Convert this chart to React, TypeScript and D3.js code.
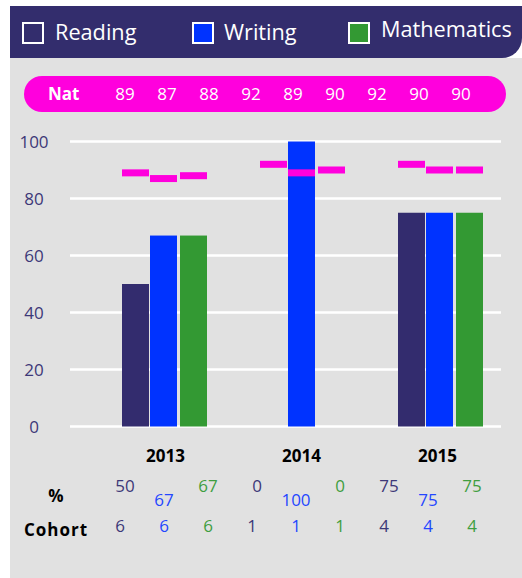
import React from "react";
import * as d3 from "d3";

const years = ["2013", "2014", "2015"];
const series = ["Reading", "Writing", "Mathematics"];
const reading = [50, 0, 75];
const writing = [67, 100, 75];
const maths = [67, 0, 75];
const natReading = [89, 92, 92];
const natWriting = [87, 89, 90];
const natMaths = [88, 90, 90];
const cohortReading = [6, 1, 4];
const cohortWriting = [6, 1, 4];
const cohortMaths = [6, 1, 4];
const yTicks = [0, 20, 40, 60, 80, 100];

const barColors = ["#332c6e", "#0033ff", "#339933"];
const textColors = ["#3d3878", "#2447ff", "#3f9e3f"];
const font = "'Open Sans', sans-serif";

export default function App() {
  const W = 522, H = 578;
  const y = d3.scaleLinear().domain([0, 100]).range([426.5, 141.5]);
  const xYear = d3.scaleBand().domain(years).range([150, 564]).padding(0);
  const offsets = [-28, 0, 30];
  const bw = 27;
  const values = [reading, writing, maths];
  const nats = [natReading, natWriting, natMaths];
  const cohorts = [cohortReading, cohortWriting, cohortMaths];
  const yearLabelX = d3.scalePoint().domain(years).range([165.5, 437.5]);
  const cols = d3.range(9);
  const colX = d3.scalePoint<number>().domain(cols).range([120, 472]);
  const natX = d3.scalePoint<number>().domain(cols).range([125, 461]);
  const pctY = [492, 506, 492];
  const pctDx = [5, 0, 0];

  const natFlat: number[] = [];
  years.forEach((_, yi) => series.forEach((_, si) => natFlat.push(nats[si][yi])));

  const headerPath = `M10,6 H522 V38 A20,20 0 0 1 502,58 H10 Z`;

  return (
    <svg width={W} height={H} style={{ position: "absolute", left: 0, top: 0 }} fontFamily={font}>
      <rect x={10} y={58} width={512} height={520} fill="#e1e1e1" />
      <path d={headerPath} fill="#332d6d" />
      {/* legend */}
      {[
        { x: 22, tx: 55, ty: 40 },
        { x: 192, tx: 224, ty: 40 },
        { x: 348, tx: 381, ty: 37 },
      ].map((l, i) => (
        <g key={i}>
          <rect x={l.x + 1} y={23} width={20} height={20} fill={i === 0 ? "#332d6d" : barColors[i]} stroke="#fff" strokeWidth={2} />
          <text x={l.tx} y={l.ty} fill="#fff" fontSize={21.7}>{series[i]}</text>
        </g>
      ))}
      {/* nat pill */}
      <rect x={24} y={76} width={482} height={36} rx={18} fill="#ff00dd" />
      <text x={48} y={100} fill="#fff" fontSize={17} fontWeight="bold">Nat</text>
      {natFlat.map((v, i) => (
        <text key={i} x={natX(i)} y={100} fill="#fff" fontSize={17} textAnchor="middle">{v}</text>
      ))}
      {/* grid */}
      {yTicks.map((t) => (
        <g key={t}>
          <line x1={70} x2={501} y1={y(t)} y2={y(t)} stroke="#fff" strokeWidth={2.5} />
          <text x={34} y={y(t) + 6.5} textAnchor="middle" fontSize={17} fill="#3d3878">{t}</text>
        </g>
      ))}
      {/* bars */}
      {years.map((yr, yi) =>
        series.map((s, si) => {
          const v = values[si][yi];
          const x = (xYear(yr) as number) + offsets[si];
          return v > 0 ? (
            <rect key={yr + s} x={x} y={y(v)} width={bw} height={y(0) - y(v)} fill={barColors[si]} />
          ) : null;
        })
      )}
      {/* nat markers */}
      {years.map((yr, yi) =>
        series.map((s, si) => {
          const v = nats[si][yi];
          const x = (xYear(yr) as number) + offsets[si];
          return <rect key={"n" + yr + s} x={x} y={y(v) - 3.5} width={bw} height={7} fill="#ff00dd" />;
        })
      )}
      {/* year labels */}
      {years.map((yr) => (
        <text key={yr} x={yearLabelX(yr)} y={462} textAnchor="middle" fontSize={17} fontWeight="bold" fill="#000">{yr}</text>
      ))}
      <text x={56} y={502} textAnchor="middle" fontSize={17} fontWeight="bold" fill="#000">%</text>
      <text x={24} y={536} fontSize={17} fontWeight="bold" fill="#000" letterSpacing={1}>Cohort</text>
      {years.map((yr, yi) =>
        series.map((s, si) => {
          const c = yi * 3 + si;
          return (
            <g key={"t" + yr + s}>
              <text x={(colX(c) as number) + pctDx[si]} y={pctY[si]} textAnchor="middle" fontSize={17} fill={textColors[si]}>{values[si][yi]}</text>
              <text x={colX(c)} y={532} textAnchor="middle" fontSize={17} fill={textColors[si]}>{cohorts[si][yi]}</text>
            </g>
          );
        })
      )}
    </svg>
  );
}
